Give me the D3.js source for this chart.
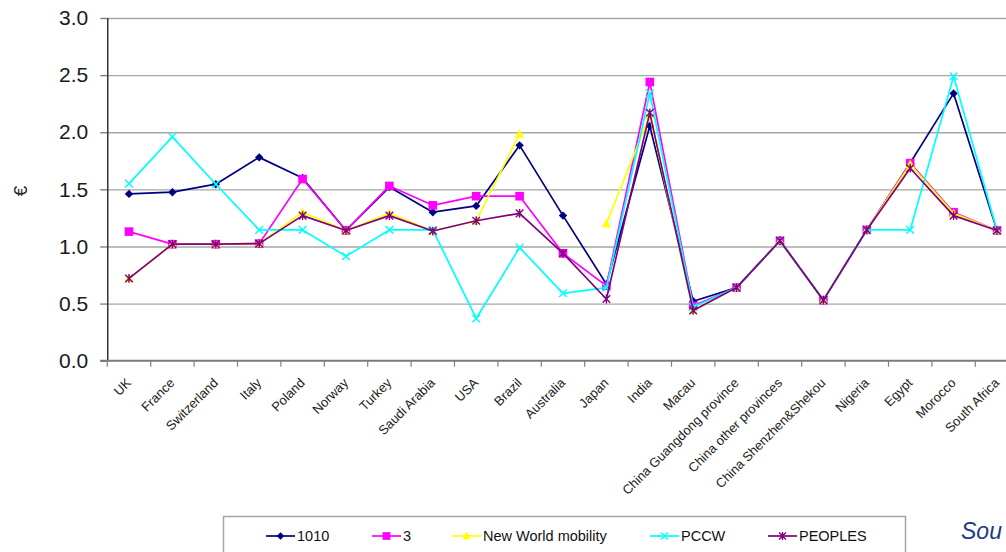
<!DOCTYPE html>
<html>
<head>
<meta charset="utf-8">
<script src="https://cdn.jsdelivr.net/npm/d3@7"></script>
<style>
  html, body { margin: 0; padding: 0; background: #fff; overflow: hidden; }
  svg { display: block; font-family: "Liberation Sans", Arial, sans-serif; }
</style>
</head>
<body>
<svg id="chart" width="1006" height="552"></svg>
<script>
// ---------------- DATA ----------------
const categories = ["UK","France","Switzerland","Italy","Poland","Norway","Turkey","Saudi Arabia","USA","Brazil","Australia","Japan","India","Macau","China Guangdong province","China other provinces","China Shenzhen&Shekou","Nigeria","Egypt","Morocco","South Africa"];
const seriesNames = ["1010","3","New World mobility","PCCW","PEOPLES"];
const values1010    = [1.46,1.475,1.545,1.78,1.60,1.14,1.52,1.30,1.355,1.885,1.27,0.67,2.055,0.52,0.64,1.05,0.53,1.145,1.73,2.34,1.14];
const values3       = [1.13,1.02,1.02,1.025,1.59,1.14,1.53,1.36,1.44,1.44,0.94,0.655,2.44,0.48,0.64,1.05,0.53,1.145,1.73,1.30,1.14];
const valuesNWM     = [0.72,1.02,1.02,1.025,1.30,1.14,1.29,1.135,1.225,1.985,null,1.20,2.15,0.44,0.64,1.05,0.53,1.145,1.72,1.29,1.14];
const valuesPCCW    = [1.55,1.96,1.545,1.145,1.145,0.915,1.145,1.145,0.37,0.99,0.59,0.64,2.34,0.47,0.64,1.05,0.53,1.145,1.145,2.49,1.14];
const valuesPEOPLES = [0.72,1.02,1.02,1.025,1.27,1.14,1.27,1.135,1.225,1.29,0.94,0.54,2.17,0.44,0.64,1.05,0.53,1.145,1.685,1.27,1.14];
const yTicks = [0,0.5,1.0,1.5,2.0,2.5,3.0];
const yLabel = "€";
const sourceText = "Sou";

// ---------------- STYLE / LAYOUT ----------------
const colors = ["#000080","#ff00ff","#ffff00","#00ffff","#800080"];
const markers = ["diamond","square","triangle","x","asterisk"];
const allValues = [values1010, values3, valuesNWM, valuesPCCW, valuesPEOPLES];

const svg = d3.select("#chart");
const plotLeft = 107.3, plotTop = 18, plotBottom = 360.7;
const band = 43.4;
const plotRight = plotLeft + band * categories.length;

const x = d3.scaleBand().domain(categories).range([plotLeft, plotRight]).padding(0);
const y = d3.scaleLinear().domain([0, 3]).range([plotBottom, plotTop]);

// gridlines
const grid = svg.append("g").attr("transform", `translate(${plotLeft},0)`)
  .call(d3.axisLeft(y).tickValues(yTicks.filter(v => v > 0)).tickSize(-(1006 - plotLeft)).tickFormat(""));
grid.select(".domain").remove();
grid.selectAll(".tick line").attr("stroke", "#a6a6a6").attr("stroke-width", 1.4);

// y axis
const yAxis = svg.append("g").attr("transform", `translate(${plotLeft},0)`)
  .call(d3.axisLeft(y).tickValues(yTicks).tickSize(7).tickPadding(12).tickFormat(d3.format(".1f")));
yAxis.select(".domain").attr("stroke", "#000").attr("stroke-width", 1.2).attr("d", `M0.5,${plotTop}V${plotBottom}`);
yAxis.selectAll(".tick line").attr("stroke", "#808080").attr("stroke-width", 1.4);
yAxis.selectAll(".tick text").attr("font-size", 21).attr("fill", "#1a1a1a")
  .attr("font-family", "Liberation Sans, Arial, sans-serif");

// x axis line
svg.append("line").attr("x1", plotLeft - 7).attr("x2", 1006).attr("y1", plotBottom).attr("y2", plotBottom)
  .attr("stroke", "#7a7a7a").attr("stroke-width", 2);
// x ticks at band boundaries
const xb = svg.append("g");
xb.selectAll("line.xt").data(categories.concat(["__end"])).join("line")
  .attr("x1", d => d === "__end" ? plotRight : x(d))
  .attr("x2", d => d === "__end" ? plotRight : x(d))
  .attr("y1", plotBottom).attr("y2", plotBottom + 6)
  .attr("stroke", "#808080").attr("stroke-width", 1.2);
// x labels
const xAxis = svg.append("g").attr("transform", `translate(0,${plotBottom})`)
  .call(d3.axisBottom(x).tickSize(0).tickFormat(d => d));
xAxis.select(".domain").remove();
xAxis.selectAll(".tick text")
  .attr("font-size", 13).attr("fill", "#222")
  .attr("font-family", "Liberation Sans, Arial, sans-serif")
  .attr("text-anchor", "end")
  .attr("dy", null).attr("y", 0)
  .attr("transform", "translate(3,23) rotate(-45)");

// y axis title
svg.append("text").attr("transform", "translate(27,191) rotate(-90)")
  .attr("text-anchor", "middle").attr("font-size", 19).attr("fill", "#222").text(yLabel);

// marker drawer
function drawMarker(g, type, color, cx, cy, scale) {
  const s = scale || 1;
  if (type === "diamond") {
    const r = 4.2 * s;
    g.append("path").attr("d", `M${cx},${cy - r}L${cx + r},${cy}L${cx},${cy + r}L${cx - r},${cy}Z`).attr("fill", color);
  } else if (type === "square") {
    const r = 4.3 * s;
    g.append("rect").attr("x", cx - r).attr("y", cy - r).attr("width", 2 * r).attr("height", 2 * r).attr("fill", color);
  } else if (type === "triangle") {
    const r = 4.6 * s;
    g.append("path").attr("d", `M${cx},${cy - r}L${cx + r},${cy + r * 0.8}L${cx - r},${cy + r * 0.8}Z`).attr("fill", color);
  } else if (type === "x") {
    const r = 3.8 * s;
    g.append("path").attr("d", `M${cx - r},${cy - r}L${cx + r},${cy + r}M${cx - r},${cy + r}L${cx + r},${cy - r}`)
      .attr("stroke", color).attr("stroke-width", 1.4).attr("fill", "none");
  } else if (type === "asterisk") {
    const r = 3.8 * s;
    g.append("path").attr("d", `M${cx - r},${cy - r}L${cx + r},${cy + r}M${cx - r},${cy + r}L${cx + r},${cy - r}M${cx},${cy - r - 0.6}L${cx},${cy + r + 0.6}`)
      .attr("stroke", color).attr("stroke-width", 1.4).attr("fill", "none");
  }
}

// series
const line = d3.line()
  .defined(d => d.v !== null)
  .x(d => x(d.c) + x.bandwidth() / 2)
  .y(d => y(d.v));

const plot = svg.append("g");
allValues.forEach((vals, i) => {
  const data = categories.map((c, k) => ({ c, v: vals[k] }));
  plot.append("path").datum(data).attr("d", line)
    .attr("fill", "none").attr("stroke", colors[i]).attr("stroke-width", 1.7)
    .attr("stroke-linejoin", "round");
  const mg = plot.append("g");
  data.filter(d => d.v !== null).forEach(d => {
    drawMarker(mg, markers[i], colors[i], x(d.c) + x.bandwidth() / 2, y(d.v));
  });
});

// legend
const legendBox = { x: 223.5, y: 516.5, w: 682, h: 60 };
svg.append("rect").attr("x", legendBox.x).attr("y", legendBox.y).attr("width", legendBox.w).attr("height", legendBox.h)
  .attr("fill", "#fff").attr("stroke", "#a6a6a6").attr("stroke-width", 1.5);
const legendLineStart = [266, 372, 452, 650, 768];
const legendLineLen = 29;
const ly = 536;
seriesNames.forEach((name, i) => {
  const lx = legendLineStart[i];
  const g = svg.append("g");
  g.append("line").attr("x1", lx).attr("x2", lx + legendLineLen).attr("y1", ly).attr("y2", ly)
    .attr("stroke", colors[i]).attr("stroke-width", 1.7);
  drawMarker(g, markers[i], colors[i], lx + legendLineLen / 2, ly, 0.9);
  g.append("text").attr("x", lx + legendLineLen + 2).attr("y", ly + 5)
    .attr("font-size", 14.5).attr("fill", "#111").text(name);
});

// source (only its start is visible at the right edge in the reference)
svg.append("text").attr("x", 961).attr("y", 539).attr("font-size", 23).attr("font-style", "italic")
  .attr("fill", "#1d3a8a").text(sourceText);
</script>
</body>
</html>
